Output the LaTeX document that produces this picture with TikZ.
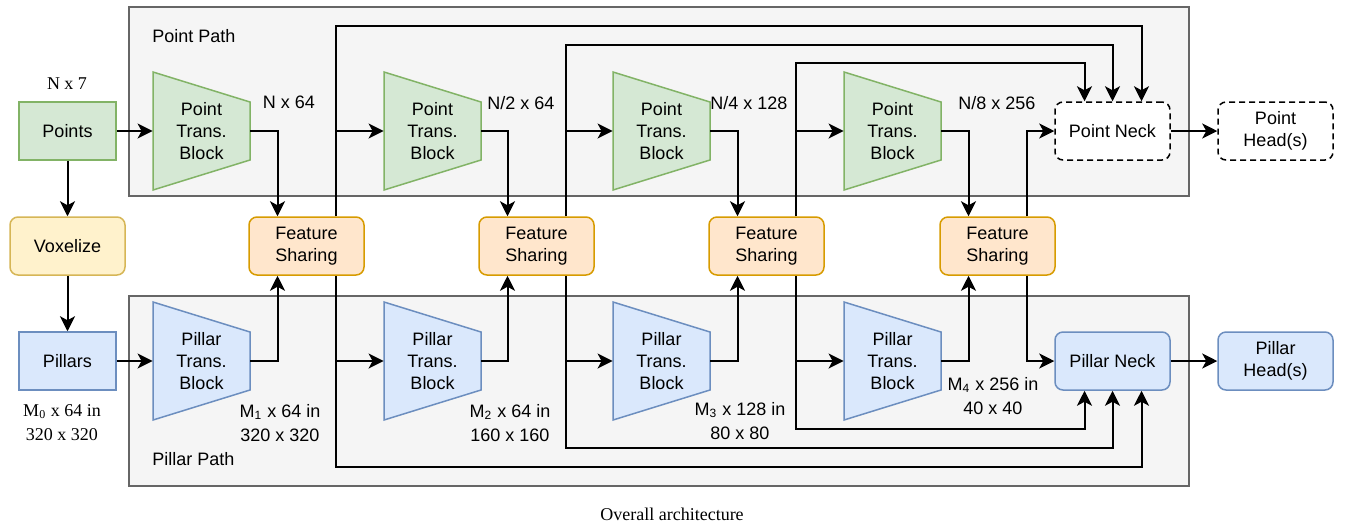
\documentclass[tikz,border=0pt]{standalone}
\usepackage{fontspec}
\setmainfont{Liberation Serif}
\setsansfont{Liberation Sans}
\usetikzlibrary{arrows.meta,calc}
\definecolor{ptfill}{HTML}{D5E8D4}
\definecolor{ptline}{HTML}{82B366}
\definecolor{plfill}{HTML}{DAE8FC}
\definecolor{plline}{HTML}{6C8EBF}
\definecolor{vxfill}{HTML}{FFF2CC}
\definecolor{vxline}{HTML}{D6B656}
\definecolor{fsfill}{HTML}{FFE6CC}
\definecolor{fsline}{HTML}{D79B00}
\definecolor{panelbg}{HTML}{F5F5F5}
\definecolor{panelline}{HTML}{666666}
\tikzset{
  box/.style={rectangle,draw,line width=0.75pt,minimum width=48.5pt,minimum height=29pt,
              inner sep=1pt,align=center,font=\sffamily\fontsize{9}{11}\selectfont},
  ptbox/.style={box,fill=ptfill,draw=ptline},
  plbox/.style={box,fill=plfill,draw=plline},
  vxbox/.style={box,fill=vxfill,draw=vxline,rounded corners=4pt,minimum width=57.5pt},
  fsbox/.style={box,fill=fsfill,draw=fsline,rounded corners=4pt,minimum width=57.5pt},
  neckbox/.style={box,fill=plfill,draw=plline,rounded corners=4pt,minimum width=57.5pt},
  dashbox/.style={box,fill=white,draw=black,dash pattern=on 3pt off 2pt,rounded corners=4pt,minimum width=57.5pt},
  blk/.style={rectangle,minimum width=48.5pt,minimum height=59pt,inner sep=0pt,align=center,
              font=\sffamily\fontsize{9}{11}\selectfont},
  ptrap/.style={fill=ptfill,draw=ptline,line width=0.75pt},
  ltrap/.style={fill=plfill,draw=plline,line width=0.75pt},
  panel/.style={draw=panelline,fill=panelbg,line width=0.6pt},
  pathlbl/.style={anchor=west,inner sep=0pt,font=\sffamily\fontsize{9}{11}\selectfont},
  dim/.style={inner sep=0pt,align=center,font=\sffamily\fontsize{9}{12}\selectfont},
  serif/.style={inner sep=0pt,align=center,font=\rmfamily\fontsize{9}{12}\selectfont},
  fl/.style={-{Stealth[length=7.5pt,width=7.5pt,inset=2pt]},line width=1pt,draw=black},
}
% trapezoid block: name, centre, colour style, text
\newcommand{\transblock}[4]{%
  \filldraw[#3,shift={(#2)}] (-48.5,-59) -- (48.5,-29) -- (48.5,29) -- (-48.5,59) -- cycle;
  \node[blk] (#1) at (#2) {#4};}

\begin{document}
\begin{tikzpicture}[x=0.5pt,y=-0.5pt]
\useasboundingbox (0,0) rectangle (1351,527);
% paths
\draw[panel] (129,7) rectangle (1189,196);
\draw[panel] (129,296) rectangle (1189,486);
\node[pathlbl] (pttitle) at (152,36) {Point Path};
\node[pathlbl] (pltitle) at (152,459) {Pillar Path};

% inputs
\node[ptbox] (pts) at (67.5,131) {Points};
\node[serif] (nin) at (67,84) {N x 7};
\node[vxbox] (vox) at (67.5,246) {Voxelize};
\node[plbox] (pil) at (67.5,361) {Pillars};
\node[serif] (min) at (62,423) {M\textsubscript{0} x 64 in\\320 x 320};

% transformer blocks
\transblock{pt1}{201.5,131}{ptrap}{Point\\Trans.\\Block}
\transblock{pt2}{432.5,131}{ptrap}{Point\\Trans.\\Block}
\transblock{pt3}{661.5,131}{ptrap}{Point\\Trans.\\Block}
\transblock{pt4}{892.5,131}{ptrap}{Point\\Trans.\\Block}
\transblock{pl1}{201.5,361}{ltrap}{Pillar\\Trans.\\Block}
\transblock{pl2}{432.5,361}{ltrap}{Pillar\\Trans.\\Block}
\transblock{pl3}{661.5,361}{ltrap}{Pillar\\Trans.\\Block}
\transblock{pl4}{892.5,361}{ltrap}{Pillar\\Trans.\\Block}

% feature sharing
\node[fsbox] (fs1) at (306.5,246) {Feature\\Sharing};
\node[fsbox] (fs2) at (536.5,246) {Feature\\Sharing};
\node[fsbox] (fs3) at (766.5,246) {Feature\\Sharing};
\node[fsbox] (fs4) at (997.5,246) {Feature\\Sharing};

% necks and heads
\node[dashbox] (pneck) at (1112.5,131) {Point Neck};
\node[dashbox] (phead) at (1275.5,131) {Point\\Head(s)};
\node[neckbox] (lneck) at (1112.5,361) {Pillar Neck};
\node[neckbox] (lhead) at (1275.5,361) {Pillar\\Head(s)};

% feature sizes
\node[dim] (n1) at (289,102) {N x 64};
\node[dim] (n2) at (521,103) {N/2 x 64};
\node[dim] (n3) at (749,103) {N/4 x 128};
\node[dim] (n4) at (997,103) {N/8 x 256};
\node[dim] (m1) at (280,423) {M\textsubscript{1} x 64 in\\320 x 320};
\node[dim] (m2) at (510,423) {M\textsubscript{2} x 64 in\\160 x 160};
\node[dim] (m3) at (740,421) {M\textsubscript{3} x 128 in\\80 x 80};
\node[dim] (m4) at (993,396) {M\textsubscript{4} x 256 in\\40 x 40};
\node[serif] (cap) at (672,514) {Overall architecture};

% skip levels
\coordinate (top1) at (0,26); \coordinate (top2) at (0,45); \coordinate (top3) at (0,63);
\coordinate (bot1) at (0,467); \coordinate (bot2) at (0,448); \coordinate (bot3) at (0,429);
\coordinate (u1) at ($(fs1.north)+(29,0)$); \coordinate (d1) at ($(fs1.south)+(29,0)$);
\coordinate (u2) at ($(fs2.north)+(29,0)$); \coordinate (d2) at ($(fs2.south)+(29,0)$);
\coordinate (u3) at ($(fs3.north)+(29,0)$); \coordinate (d3) at ($(fs3.south)+(29,0)$);
\coordinate (u4) at ($(fs4.north)+(29,0)$); \coordinate (d4) at ($(fs4.south)+(29,0)$);

\draw[fl](pts)--(pt1);\draw[fl](pts)--(vox);\draw[fl](vox)--(pil);\draw[fl](pil)--(pl1);
\draw[fl](pt1.east) -| ($(fs1.north)+(-29,0)$);\draw[fl](pl1.east) -| ($(fs1.south)+(-29,0)$);
\draw[fl](pt2.east) -| ($(fs2.north)+(-29,0)$);\draw[fl](pl2.east) -| ($(fs2.south)+(-29,0)$);
\draw[fl](pt3.east) -| ($(fs3.north)+(-29,0)$);\draw[fl](pl3.east) -| ($(fs3.south)+(-29,0)$);
\draw[fl](pt4.east) -| ($(fs4.north)+(-29,0)$);\draw[fl](pl4.east) -| ($(fs4.south)+(-29,0)$);
\draw[fl](u1) -- (u1 |- top1) -| ($(pneck.north)+(29,0)$);
\draw[fl](u2) -- (u2 |- top2) -| (pneck.north);
\draw[fl](u3) -- (u3 |- top3) -| ($(pneck.north)+(-28,0)$);
\draw[fl](d1) -- (d1 |- bot1) -| ($(lneck.south)+(29,0)$);
\draw[fl](d2) -- (d2 |- bot2) -| (lneck.south);
\draw[fl](d3) -- (d3 |- bot3) -| ($(lneck.south)+(-28,0)$);
\draw[fl](u1 |- pt2.west) -- (pt2.west);\draw[fl](d1 |- pl2.west) -- (pl2.west);
\draw[fl](u2 |- pt3.west) -- (pt3.west);\draw[fl](d2 |- pl3.west) -- (pl3.west);
\draw[fl](u3 |- pt4.west) -- (pt4.west);\draw[fl](d3 |- pl4.west) -- (pl4.west);
\draw[fl](u4) |- (pneck.west);\draw[fl](d4) |- (lneck.west);
\draw[fl](pneck)--(phead);\draw[fl](lneck)--(lhead);
\end{tikzpicture}
\end{document}
